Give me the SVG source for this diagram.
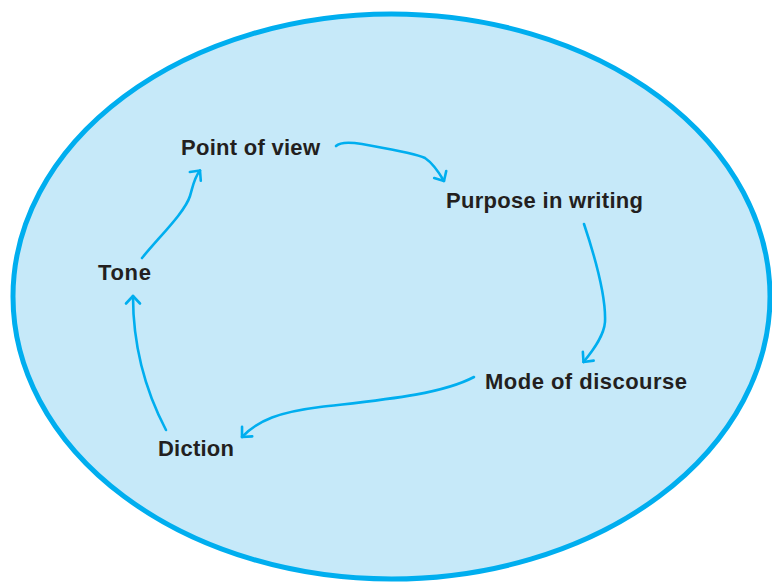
<svg xmlns="http://www.w3.org/2000/svg" width="772" height="582" viewBox="0 0 772 582">
<style>
.bg{fill:#c6e9f9;stroke:#00aeef;stroke-width:5}
.lbl{font-family:"Liberation Sans",Arial,sans-serif;font-weight:bold;font-size:22px;fill:#231f20}
.conn{fill:none;stroke:#00aeef;stroke-width:2.6;stroke-linecap:round;stroke-linejoin:round;marker-end:url(#ah)}
</style>
<defs>
<marker id="ah" markerUnits="userSpaceOnUse" viewBox="0 0 14 20" markerWidth="14" markerHeight="20" refX="10.5" refY="10" orient="auto">
<path d="M3 3 L10.5 10 L3 17" fill="none" stroke="#00aeef" stroke-width="2.6" stroke-linecap="round" stroke-linejoin="round"/>
</marker>
</defs>
<rect width="772" height="582" fill="#ffffff"/>
<ellipse class="bg" cx="391.5" cy="296.5" rx="378.5" ry="282.5"/>
<g id="connectors">
<path class="conn" d="M336 146 C 340 142, 350 142, 362 144 C 390 149, 415 153, 425 158 Q 434 164, 444 181"/>
<path class="conn" d="M584 224 C 596 260, 606 300, 605 322 C 604 335, 595 348, 583.5 362"/>
<path class="conn" d="M474 377 C 440 395, 380 400, 320 407 C 280 412, 258 420, 242 437"/>
<path class="conn" d="M166 430 C 145 390, 133 345, 133 296"/>
<path class="conn" d="M142 258 C 160 236, 185 212, 190 196 C 193 186, 194 178, 200 170.5"/>
</g>
<g id="point-of-view"><text class="lbl" x="181" y="155" textLength="139" lengthAdjust="spacing">Point of view</text></g>
<g id="purpose-in-writing"><text class="lbl" x="446" y="208" textLength="197" lengthAdjust="spacing">Purpose in writing</text></g>
<g id="mode-of-discourse"><text class="lbl" x="485" y="389" textLength="202" lengthAdjust="spacing">Mode of discourse</text></g>
<g id="tone"><text class="lbl" x="98" y="280" textLength="53" lengthAdjust="spacing">Tone</text></g>
<g id="diction"><text class="lbl" x="158" y="456" textLength="76" lengthAdjust="spacing">Diction</text></g>
</svg>
